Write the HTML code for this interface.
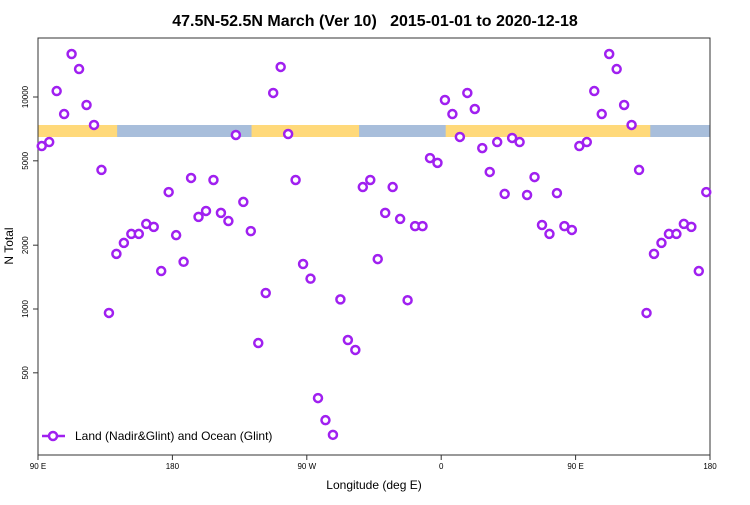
<!DOCTYPE html>
<html><head><meta charset="utf-8"><style>
body{margin:0;background:#fff;}
svg text{font-family:"Liberation Sans",sans-serif;}
</style></head><body>
<svg id="chart" width="750" height="500" xmlns="http://www.w3.org/2000/svg">
<text x="375" y="26" text-anchor="middle" font-size="16" font-weight="bold" style="white-space:pre" xml:space="preserve">47.5N-52.5N March (Ver 10)   2015-01-01 to 2020-12-18</text>
<g id="band"></g>
<rect x="38" y="38" width="672" height="417" fill="none" stroke="#333" stroke-width="1"/>
<g id="axes"></g>
<g id="marks"></g>
<text x="374" y="489" text-anchor="middle" font-size="12">Longitude (deg E)</text>
<text transform="translate(13,246) rotate(-90)" text-anchor="middle" font-size="12">N Total</text>
<g>
<line x1="42" y1="436" x2="65" y2="436" stroke="#A020F0" stroke-width="2.5"/>
<circle cx="53" cy="436" r="4" fill="#fff" stroke="#A020F0" stroke-width="2.5"/>
<text x="75" y="440" font-size="12">Land (Nadir&amp;Glint) and Ocean (Glint)</text>
</g>
</svg>
<script>
const lonStart = 92.5;
const lonStep = 5;
const nTotal = [5870,6130,10670,8310,15950,13550,9170,7380,4530,958,1820,2050,2260,2260,2520,2440,1510,3560,2230,1670,4150,2720,2900,4060,2840,2600,6620,3200,2330,691,1190,10450,13860,6690,4060,1630,1390,380,299,255,1110,714,641,3760,4060,1720,2840,3760,2660,1100,2460,2460,5150,4890,9680,8310,6480,10450,8780,5740,4430,6130,3490,6410,6130,3450,4190,2490,2260,3520,2460,2360];
const xTickVals = [90,180,270,360,450,540];
const xTickLabels = ["90 E","180","90 W","0","90 E","180"];
const yTickVals = [500,1000,2000,5000,10000];
const yTickLabels = ["500","1000","2000","5000","10000"];
const landStart = [90,233,363];
const landEnd = [143,305,500];

const X0=38,X1=710,Y0=38,Y1=455;
const xMin=90,xMax=540;
function xs(v){return X0+(v-xMin)/(xMax-xMin)*(X1-X0);}
function ys(v){return 309-(Math.log10(v)-3)*212;}
const NS="http://www.w3.org/2000/svg";
function mk(tag,attrs,parent){const e=document.createElementNS(NS,tag);for(const k in attrs)e.setAttribute(k,attrs[k]);parent.appendChild(e);return e;}

const band=document.getElementById('band');
const ob=mk('rect',{x:X0,y:125,width:X1-X0,height:12,fill:'#A8BEDB'},band);


for(let i=0;i<landStart.length;i++){
  const r=mk('rect',{x:xs(landStart[i]),y:125,width:xs(landEnd[i])-xs(landStart[i]),height:12,fill:'#FFD97A'},band);
  
  
}

const axes=document.getElementById('axes');
for(let i=0;i<xTickVals.length;i++){
  const x=xs(xTickVals[i]);
  const t=mk('line',{x1:x,y1:Y1,x2:x,y2:Y1+5,stroke:'#333'},axes);
  
  
  const l=mk('text',{x:x,y:469,'text-anchor':'middle','font-size':'8'},axes);
  l.textContent=xTickLabels[i];
  
  
}
for(let i=0;i<yTickVals.length;i++){
  const y=ys(yTickVals[i]);
  const t=mk('line',{x1:X0-5,y1:y,x2:X0,y2:y,stroke:'#333'},axes);
  
  
  const l=mk('text',{transform:`translate(28,${y}) rotate(-90)`,'text-anchor':'middle','font-size':'8'},axes);
  l.textContent=yTickLabels[i];
  
  
}

const marks=document.getElementById('marks');
for(let i=0;i<nTotal.length;i++){
  const base=lonStart+i*lonStep;
  for(const lon of [base,base+360]){
    if(lon>xMax) continue;
    const c=mk('circle',{cx:xs(lon),cy:ys(nTotal[i]),r:4,fill:'#fff',stroke:'#A020F0','stroke-width':2.5},marks);
    
    
  }
}
</script>
</body></html>
